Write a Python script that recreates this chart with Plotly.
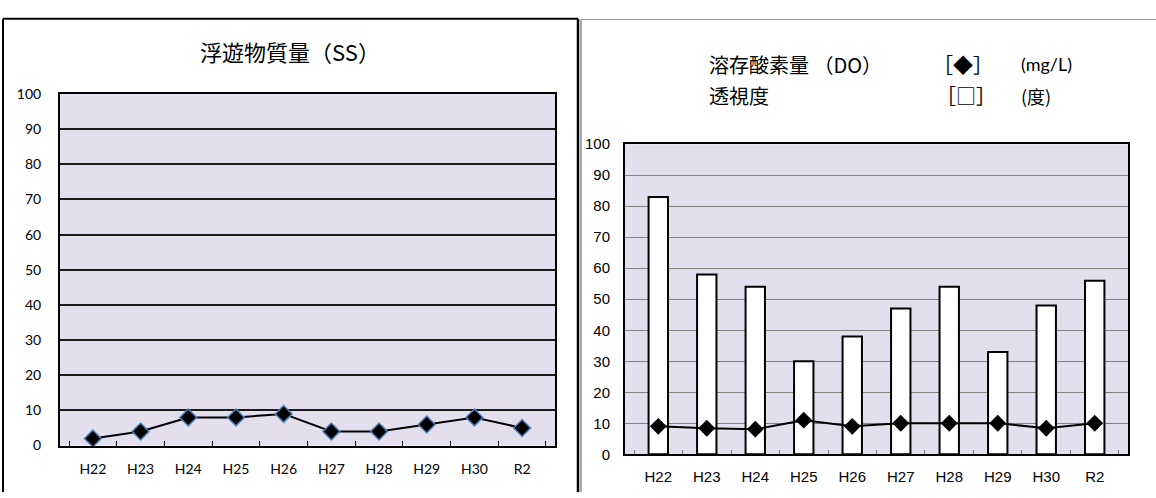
import plotly.graph_objects as go

W, H = 1156, 498

years = ["H22", "H23", "H24", "H25", "H26", "H27", "H28", "H29", "H30", "R2"]
ss_values = [2, 4, 8, 8, 9, 4, 4, 6, 8, 5]
do_values = [9, 8.4, 8.1, 11, 9, 10, 10, 10, 8.4, 10]
transparency = [83, 58, 54, 30, 38, 47, 54, 33, 48, 56]
y_ticks = [0, 10, 20, 30, 40, 50, 60, 70, 80, 90, 100]

left_title = "浮遊物質量（SS）"

def px(x):
    return x / W

def py(y):
    return 1 - y / H

fig = go.Figure()

fig.add_trace(go.Scatter(
    x=years, y=ss_values, mode="lines+markers",
    line=dict(color="black", width=2),
    marker=dict(symbol="diamond", size=13, color="black",
                line=dict(color="#4F81BD", width=1.5)),
    xaxis="x", yaxis="y", showlegend=False, cliponaxis=False))

fig.add_trace(go.Bar(
    x=years, y=transparency, width=0.4,
    marker=dict(color="white", line=dict(color="black", width=2)),
    xaxis="x2", yaxis="y2", showlegend=False))

fig.add_trace(go.Scatter(
    x=years, y=do_values, mode="lines+markers",
    line=dict(color="black", width=2),
    marker=dict(symbol="diamond", size=13, color="black"),
    xaxis="x2", yaxis="y2", showlegend=False, cliponaxis=False))

left_font = dict(family="Lato, Noto Sans", size=14, color="black")
right_font = dict(family="Liberation Sans, Arial", size=15, color="black")

fig.update_layout(
    width=W, height=H,
    margin=dict(l=0, r=0, t=0, b=0),
    paper_bgcolor="white",
    plot_bgcolor="#E4DFEC",
    xaxis=dict(domain=[px(60), px(555)], anchor="y", type="category",
               showline=True, mirror=True, linecolor="black", linewidth=2,
               ticks="inside", tickson="boundaries", ticklen=5, tickcolor="black",
               tickfont=left_font, ticklabelstandoff=10, showgrid=False),
    yaxis=dict(domain=[py(452), py(88)], anchor="x", range=[0, 100],
               tickvals=y_ticks, showline=True, mirror=True, linecolor="black",
               linewidth=2, gridcolor="#1a1a1a", gridwidth=1.5, ticks="",
               tickfont=left_font, ticklabelstandoff=14, zeroline=False),
    xaxis2=dict(domain=[px(625), px(1128)], anchor="y2", type="category",
                showline=True, mirror=True, linecolor="black", linewidth=2,
                ticks="inside", tickson="boundaries", ticklen=4, tickcolor="#777",
                tickfont=right_font, ticklabelstandoff=8, showgrid=False),
    yaxis2=dict(domain=[py(461), py(140)], anchor="x2", range=[0, 100],
                tickvals=y_ticks, showline=True, mirror=True, linecolor="black",
                linewidth=2, gridcolor="#808080", gridwidth=1, ticks="",
                tickfont=right_font, ticklabelstandoff=10, zeroline=False),
    bargap=0.6,
)

cjk = "Noto Sans CJK JP"
annotations = [
    dict(text=left_title, x=px(290), y=py(44), xanchor="center", yanchor="middle",
         font=dict(family=cjk, size=22, color="black")),
    dict(text="溶存酸素量 （DO）", x=px(707), y=py(57), xanchor="left", yanchor="middle",
         font=dict(family=cjk, size=20, color="black")),
    dict(text="［◆］", x=px(963), y=py(57), xanchor="center", yanchor="middle",
         font=dict(family=cjk, size=20, color="black")),
    dict(text="(mg/L)", x=px(1019), y=py(57), xanchor="left", yanchor="middle",
         font=dict(family="Lato, Noto Sans", size=18, color="black")),
    dict(text="透視度", x=px(707), y=py(90), xanchor="left", yanchor="middle",
         font=dict(family=cjk, size=20, color="black")),
    dict(text="［□］", x=px(966), y=py(90), xanchor="center", yanchor="middle",
         font=dict(family=cjk, size=20, color="black")),
    dict(text="(度)", x=px(1019), y=py(90), xanchor="left", yanchor="middle",
         font=dict(family=cjk, size=18, color="black")),
]
for a in annotations:
    a.update(xref="paper", yref="paper", showarrow=False)
fig.update_layout(annotations=annotations)

shapes = [
    # left panel border
    dict(type="line", x0=px(3), x1=px(3), y0=py(10), y1=py(500), line=dict(color="black", width=2)),
    dict(type="line", x0=px(3), x1=px(578), y0=py(10), y1=py(10), line=dict(color="black", width=2)),
    dict(type="line", x0=px(578), x1=px(578), y0=py(10), y1=py(500), line=dict(color="black", width=2.5)),
    # right panel border
    dict(type="line", x0=px(581), x1=px(581), y0=py(11), y1=py(500), line=dict(color="#555", width=1)),
    dict(type="line", x0=px(581), x1=px(1156), y0=py(11), y1=py(11), line=dict(color="#999", width=1)),
]
for s in shapes:
    s.update(xref="paper", yref="paper", layer="above")
fig.update_layout(shapes=shapes)

fig.write_html(
    "out.html",
    config={"displayModeBar": False},
    post_script="document.body.style.margin='0';document.body.style.overflow='hidden';",
)
